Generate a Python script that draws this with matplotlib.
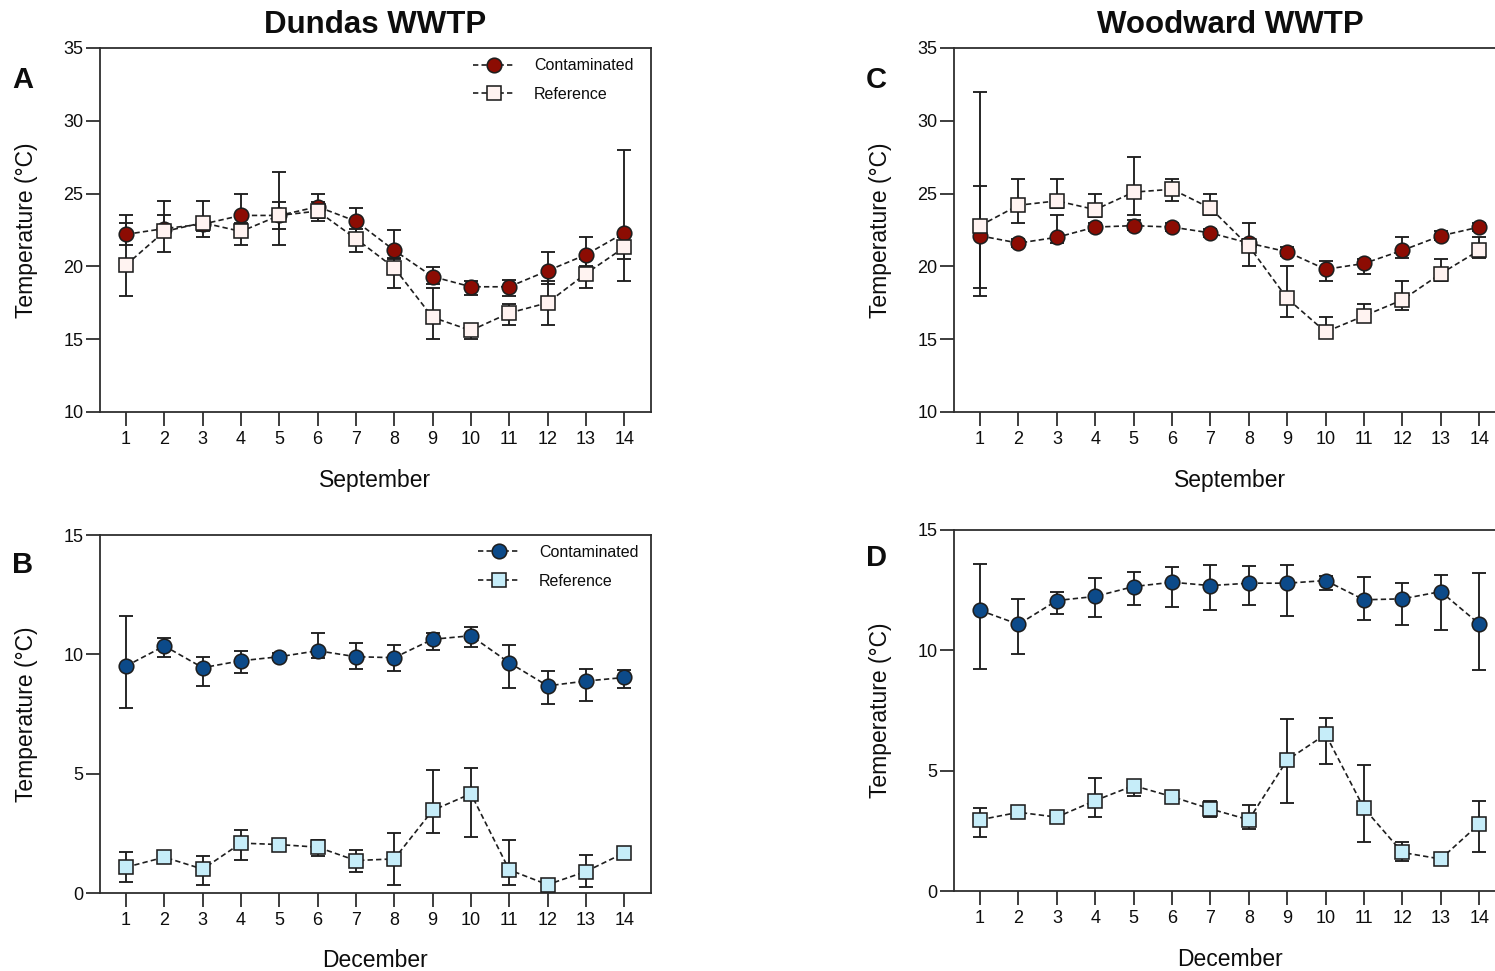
import numpy as np
import matplotlib
matplotlib.use("Agg")
import matplotlib.pyplot as plt

plt.rcParams['font.family'] = ['Liberation Sans', 'DejaVu Sans']

days = list(range(1, 15))

# Dundas WWTP, September (mean with lower / upper error bounds, deg C)
dundas_sep_cont = [22.2, 22.6, 22.9, 23.5, 23.5, 24.1, 23.1, 21.1, 19.3, 18.6, 18.6, 19.7, 20.8, 22.3]
dundas_sep_cont_lo = [21.5, 22.0, 22.4, 22.9, 22.6, 23.1, 22.3, 20.5, 18.8, 18.05, 18.0, 18.8, 20.0, 20.5]
dundas_sep_cont_hi = [23.5, 23.5, 23.4, 25.0, 24.45, 25.0, 24.0, 22.5, 19.95, 19.0, 19.1, 21.0, 22.0, 28.0]
dundas_sep_ref = [20.1, 22.4, 23.0, 22.4, 23.5, 23.8, 21.9, 19.9, 16.5, 15.6, 16.8, 17.5, 19.5, 21.3]
dundas_sep_ref_lo = [18.0, 21.0, 22.0, 21.5, 21.5, 23.3, 21.0, 18.5, 15.0, 15.0, 16.0, 16.0, 18.5, 19.0]
dundas_sep_ref_hi = [23.0, 24.5, 24.5, 23.0, 26.5, 24.4, 22.6, 20.6, 18.5, 16.0, 17.4, 19.0, 20.5, 22.0]

# Dundas WWTP, December
dundas_dec_cont = [9.51, 10.35, 9.44, 9.73, 9.9, 10.15, 9.9, 9.86, 10.63, 10.78, 9.65, 8.68, 8.88, 9.03]
dundas_dec_cont_lo = [7.77, 9.87, 8.68, 9.2, 9.75, 9.83, 9.38, 9.3, 10.18, 10.29, 8.61, 7.91, 8.05, 8.61]
dundas_dec_cont_hi = [11.61, 10.67, 9.87, 10.15, 10.05, 10.88, 10.46, 10.39, 10.88, 11.13, 10.39, 9.31, 9.38, 9.34]
dundas_dec_ref = [1.08, 1.5, 1.0, 2.09, 2.03, 1.92, 1.36, 1.43, 3.46, 4.16, 0.97, 0.35, 0.9, 1.68]
dundas_dec_ref_lo = [0.48, 1.3, 0.35, 1.39, 1.9, 1.57, 0.87, 0.35, 2.51, 2.34, 0.35, 0.25, 0.24, 1.55]
dundas_dec_ref_hi = [1.71, 1.7, 1.54, 2.66, 2.15, 2.23, 1.81, 2.52, 5.14, 5.24, 2.24, 0.45, 1.61, 1.8]

# Woodward WWTP, September
woodward_sep_cont = [22.1, 21.6, 22.0, 22.7, 22.8, 22.7, 22.3, 21.6, 21.0, 19.8, 20.2, 21.1, 22.1, 22.7]
woodward_sep_cont_lo = [18.5, 21.3, 21.6, 22.4, 22.5, 22.4, 22.0, 21.3, 20.7, 19.0, 19.5, 20.6, 21.8, 22.4]
woodward_sep_cont_hi = [25.5, 21.9, 23.5, 23.0, 23.2, 23.0, 22.6, 21.9, 21.3, 20.4, 20.5, 22.0, 22.4, 23.0]
woodward_sep_ref = [22.8, 24.2, 24.5, 23.9, 25.1, 25.3, 24.0, 21.4, 17.8, 15.5, 16.6, 17.7, 19.5, 21.1]
woodward_sep_ref_lo = [18.0, 23.0, 24.0, 23.4, 23.5, 24.5, 23.5, 20.0, 16.5, 15.1, 16.2, 17.0, 19.0, 20.6]
woodward_sep_ref_hi = [32.0, 26.0, 26.0, 25.0, 27.5, 26.0, 25.0, 23.0, 20.0, 16.5, 17.4, 19.0, 20.5, 22.0]

# Woodward WWTP, December
woodward_dec_cont = [11.66, 11.08, 12.07, 12.24, 12.65, 12.83, 12.69, 12.79, 12.79, 12.9, 12.1, 12.14, 12.44, 11.1]
woodward_dec_cont_lo = [9.21, 9.86, 11.49, 11.38, 11.89, 11.8, 11.69, 11.89, 11.41, 12.49, 11.24, 11.04, 10.83, 9.17]
woodward_dec_cont_hi = [13.59, 12.14, 12.44, 13.01, 13.25, 13.45, 13.56, 13.52, 13.56, 13.07, 13.04, 12.79, 13.14, 13.22]
woodward_dec_ref = [2.96, 3.27, 3.07, 3.76, 4.38, 3.92, 3.41, 2.96, 5.44, 6.51, 3.44, 1.6, 1.33, 2.78]
woodward_dec_ref_lo = [2.24, 3.1, 2.95, 3.09, 3.95, 3.8, 3.09, 2.57, 3.65, 5.26, 2.02, 1.23, 1.2, 1.62]
woodward_dec_ref_hi = [3.44, 3.45, 3.2, 4.68, 4.54, 4.05, 3.72, 3.58, 7.13, 7.2, 5.23, 2.02, 1.45, 3.76]

RED = '#8c0c03'
PINK = '#fff3f1'
NAVY = '#0c4a89'
CYAN = '#c6edf9'
INK = '#1e1e1e'
AXIS = '#2e2e2e'
TEXT = '#0d0d0d'

W, H = 1495, 971
fig = plt.figure(figsize=(W / 100, H / 100), dpi=100)


def axes_px(left, top, right, bottom):
    return fig.add_axes([left / W, 1 - bottom / H, (right - left) / W, (bottom - top) / H])


def panel(ax, cont, cont_lo, cont_hi, ref, ref_lo, ref_hi, c_fill, r_fill,
          ylim, yticks, xlabel):
    for mean, lo, hi in ((cont, cont_lo, cont_hi), (ref, ref_lo, ref_hi)):
        m = np.asarray(mean)
        yerr = [m - np.asarray(lo), np.asarray(hi) - m]
        ax.errorbar(days, m, yerr=yerr, fmt='none', ecolor=INK, elinewidth=1.35,
                    capsize=5, capthick=1.35, zorder=2)
    ax.plot(days, cont, ls=(0, (3.2, 1.9)), lw=1.2, color=INK, marker='o', ms=10.5,
            mfc=c_fill, mec=INK, mew=1.15, zorder=3, label='Contaminated')
    ax.plot(days, ref, ls=(0, (3.2, 1.9)), lw=1.2, color=INK, marker='s', ms=10,
            mfc=r_fill, mec=INK, mew=1.15, zorder=4, label='Reference')
    ax.set_xlim(0.32, 14.7)
    ax.set_ylim(*ylim)
    ax.set_xticks(days)
    ax.set_yticks(yticks)
    ax.tick_params(direction='out', length=10, width=1.3, color=AXIS,
                   labelsize=13, labelcolor=TEXT)
    ax.tick_params(axis='x', pad=4)
    ax.tick_params(axis='y', pad=2)
    for s in ax.spines.values():
        s.set_linewidth(1.3)
        s.set_color(AXIS)
    ax.set_ylabel('Temperature (°C)', fontsize=16.5, color=TEXT)
    ax.yaxis.set_label_coords(-0.112, 0.5)
    ax.set_xlabel(xlabel, fontsize=16.5, color=TEXT)
    ax.xaxis.set_label_coords(0.5, -0.157)


def legend(ax, x, y):
    ax.legend(loc='upper left', bbox_to_anchor=(x, y), frameon=False, fontsize=11.5,
              handlelength=2.57, handletextpad=1.25, labelspacing=0.85, borderpad=0,
              borderaxespad=0, numpoints=1, labelcolor=TEXT)


axA = axes_px(100, 48, 651, 412)
axB = axes_px(100, 535, 651, 893)
axC = axes_px(954, 48, 1506, 412)
axD = axes_px(954, 530, 1506, 891)

panel(axA, dundas_sep_cont, dundas_sep_cont_lo, dundas_sep_cont_hi,
      dundas_sep_ref, dundas_sep_ref_lo, dundas_sep_ref_hi, RED, PINK,
      (10, 35), [10, 15, 20, 25, 30, 35], 'September')
panel(axB, dundas_dec_cont, dundas_dec_cont_lo, dundas_dec_cont_hi,
      dundas_dec_ref, dundas_dec_ref_lo, dundas_dec_ref_hi, NAVY, CYAN,
      (0, 15), [0, 5, 10, 15], 'December')
panel(axC, woodward_sep_cont, woodward_sep_cont_lo, woodward_sep_cont_hi,
      woodward_sep_ref, woodward_sep_ref_lo, woodward_sep_ref_hi, RED, PINK,
      (10, 35), [10, 15, 20, 25, 30, 35], 'September')
panel(axD, woodward_dec_cont, woodward_dec_cont_lo, woodward_dec_cont_hi,
      woodward_dec_ref, woodward_dec_ref_lo, woodward_dec_ref_hi, NAVY, CYAN,
      (0, 15), [0, 5, 10, 15], 'December')

legend(axA, 0.677, 0.972)
legend(axB, 0.686, 0.972)

axA.set_title('Dundas WWTP', fontsize=22.5, fontweight='bold', pad=10.8, color=TEXT)
axC.set_title('Woodward WWTP', fontsize=22.5, fontweight='bold', pad=10.8, color=TEXT)

for letter, x, y in (('A', 12, 88), ('B', 12, 573), ('C', 866, 88), ('D', 866, 566)):
    fig.text(x / W, 1 - y / H, letter, fontsize=21, fontweight='bold',
             va='baseline', color=TEXT)

fig.savefig('out.png', dpi=100)
